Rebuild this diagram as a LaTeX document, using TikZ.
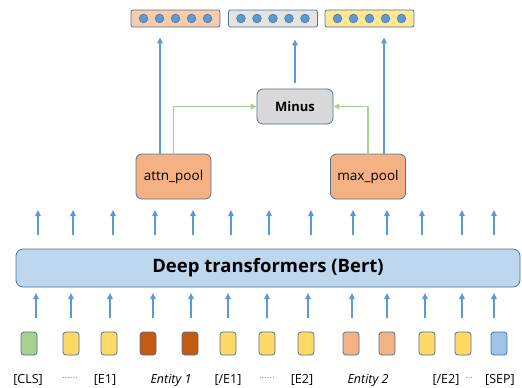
\documentclass[tikz,border=0pt]{standalone}
\usepackage{fontspec}
\setmainfont{Open Sans}
\usetikzlibrary{arrows.meta}

\definecolor{edge}{HTML}{4F7396}
\definecolor{arrblue}{HTML}{5B9BD5}
\definecolor{lgreen}{HTML}{A9D18E}
\definecolor{peach}{HTML}{F8CBAD}
\definecolor{lgray}{HTML}{E4E4E4}
\definecolor{lyellow}{HTML}{FFE699}
\definecolor{mgray}{HTML}{D9D9D9}
\definecolor{salmon}{HTML}{F4B183}
\definecolor{bertblue}{HTML}{BDD7EE}
\definecolor{tgreen}{HTML}{A9D18E}
\definecolor{tyellow}{HTML}{FFD966}
\definecolor{tbrown}{HTML}{C55A11}
\definecolor{tblue}{HTML}{9DC3E6}
\definecolor{dotgray}{HTML}{8C8C8C}

\begin{document}
\begin{tikzpicture}[x=1pt,y=-1pt,>={Triangle[length=6pt,width=5.5pt]},
  box/.style={draw=edge, line width=0.8pt, rounded corners=4pt},
  vec/.style={box, rounded corners=2pt, minimum width=89pt, minimum height=17pt, inner sep=0pt},
  pool/.style={box, fill=salmon, rounded corners=6pt, minimum width=75pt, minimum height=45pt,
    font=\fontsize{13.5}{16}\selectfont},
  tok/.style={box, rounded corners=3pt, minimum width=16pt, minimum height=23pt, inner sep=0pt},
  dot/.style={draw=edge, fill=arrblue, line width=0.6pt},
  up/.style={->, draw=arrblue, line width=1.4pt},
  link/.style={->, draw=lgreen, line width=1.6pt},
  lab/.style={font=\fontsize{12.5}{14}\selectfont},
  dots/.style={text=dotgray, font=\fontsize{10}{10}\selectfont}]
\useasboundingbox (0,0) rectangle (522,388);

% output vectors
\node[vec, fill=peach] (v1) at (175.5,18.5) {};
\node[vec, fill=lgray] (v2) at (273,18.5) {};
\node[vec, fill=lyellow] (v3) at (369.5,18.5) {};
\foreach \v in {v1,v2,v3}
  \foreach \k in {-2,...,2}
    \draw[dot] ([xshift=\k*16pt]\v.center) circle (4.3);

% pooling and minus
\node[box, fill=mgray, rounded corners=6pt, minimum width=76pt, minimum height=35pt,
  font=\bfseries\fontsize{13}{16}\selectfont] (minus) at (295,106.5) {Minus};
\node[pool] (attn) at (173.5,176.5) {attn\_pool};
\node[pool] (maxp) at (368,176.5) {max\_pool};

\draw[up, shorten >=10pt] ([xshift=-13.5pt]attn.north) -- ([xshift=-13.5pt]attn.north |- v1.south);
\draw[up, shorten <=6pt, shorten >=12pt] (minus.north) -- (minus.north |- v2.south);
\draw[up, shorten >=10pt] ([xshift=16pt]maxp.north) -- ([xshift=16pt]maxp.north |- v3.south);
\draw[link] (attn.north) |- (minus.west);
\draw[link] (maxp.north) |- (minus.east);

% encoder
\node[box, fill=bertblue, rounded corners=7pt, minimum width=504pt, minimum height=38pt,
  font=\bfseries\fontsize{18.5}{20}\selectfont] (bert) at (268,268) {Deep transformers (Bert)};
\foreach \x in {38,73,113,155,193,231,269,311,353,387,422,462,494}
  \draw[up] (\x,235) -- (\x,210);
\foreach \x in {36,71,110,153,191,228,267,308,352,387,425,462,494}
  \draw[up] (\x,318) -- (\x,293);

% input tokens
\node[tok, fill=tgreen] (t1) at (29,343.5) {};
\node[tok, fill=tyellow] (t2) at (71,343.5) {};
\node[tok, fill=tyellow] (t3) at (109,343.5) {};
\node[tok, fill=tbrown] (t4) at (148,343.5) {};
\node[tok, fill=tbrown] (t5) at (190,343.5) {};
\node[tok, fill=tyellow] (t6) at (228,343.5) {};
\node[tok, fill=tyellow] (t7) at (267,343.5) {};
\node[tok, fill=tyellow] (t8) at (306,343.5) {};
\node[tok, fill=salmon] (t9) at (351,343.5) {};
\node[tok, fill=salmon] (t10) at (387,343.5) {};
\node[tok, fill=tyellow] (t11) at (427,343.5) {};
\node[tok, fill=tyellow] (t12) at (463,343.5) {};
\node[tok, fill=tblue] (t13) at (499,343.5) {};

% token labels
\node[lab] (cls) at (28,380) {[CLS]};
\node[dots] (d1) at (70,378) {......};
\node[lab] (e1) at (105,380) {[E1]};
\node[lab, font=\itshape\fontsize{12.5}{14}\selectfont] (ent1) at (171,380) {Entity 1};
\node[lab] (ce1) at (228,380) {[/E1]};
\node[dots] (d2) at (267,378) {......};
\node[lab] (e2) at (302,380) {[E2]};
\node[lab, font=\itshape\fontsize{12.5}{14}\selectfont] (ent2) at (368,380) {Entity 2};
\node[lab] (ce2) at (446,380) {[/E2]};
\node[dots] (d3) at (469,378) {...};
\node[lab] (sep) at (500,380) {[SEP]};
\end{tikzpicture}
\end{document}
